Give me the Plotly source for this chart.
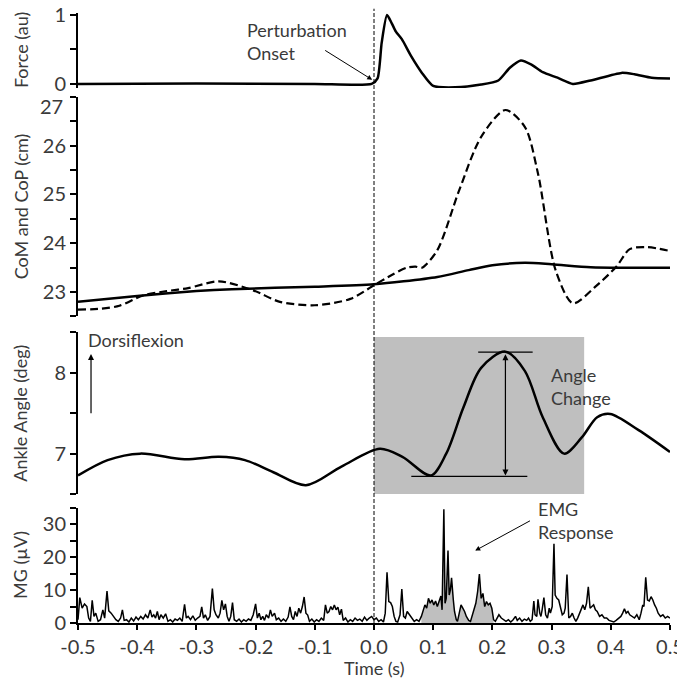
import plotly.graph_objects as go

# time axis (s) and readings from the figure
force_t = [-0.5, -0.3, -0.1, -0.004, 0.006, 0.013, 0.022, 0.03, 0.037, 0.047, 0.063, 0.081, 0.1, 0.137,
           0.181, 0.21, 0.229, 0.248, 0.266, 0.285, 0.31, 0.336, 0.366, 0.418, 0.44, 0.469, 0.5]
force_au = [0.0, 0.005, 0.0, 0.0, 0.08, 0.6, 1.0, 0.88, 0.76, 0.65, 0.40, 0.16, -0.03, -0.05,
            -0.01, 0.05, 0.23, 0.34, 0.28, 0.17, 0.09, 0.0, 0.05, 0.16, 0.14, 0.09, 0.08]

com_t = [-0.5, -0.4, -0.3, -0.24, -0.1, 0.0, 0.05, 0.107, 0.16, 0.2, 0.255, 0.3, 0.366, 0.43, 0.5]
com_cm = [22.8, 22.92, 23.02, 23.06, 23.11, 23.16, 23.22, 23.31, 23.45, 23.55, 23.6, 23.57, 23.51, 23.5, 23.5]

cop_t = [-0.5, -0.46, -0.43, -0.39, -0.35, -0.314, -0.262, -0.203, -0.159, -0.1, -0.04, 0.0, 0.03,
         0.055, 0.07, 0.081, 0.107, 0.144, 0.181, 0.222, 0.255, 0.277, 0.307, 0.336, 0.373, 0.41,
         0.432, 0.462, 0.5]
cop_cm = [22.64, 22.66, 22.72, 22.93, 23.02, 23.08, 23.22, 23.03, 22.8, 22.73, 22.86, 23.14, 23.35,
          23.5, 23.52, 23.5, 23.86, 25.09, 26.18, 26.73, 26.38, 25.43, 23.44, 22.77, 23.1, 23.53,
          23.88, 23.92, 23.84]

ankle_t = [-0.5, -0.45, -0.395, -0.32, -0.262, -0.218, -0.17, -0.115, -0.055, 0.01, 0.048, 0.096,
           0.122, 0.151, 0.181, 0.222, 0.255, 0.285, 0.321, 0.351, 0.377, 0.399, 0.447, 0.5]
ankle_deg = [6.73, 6.92, 7.0, 6.93, 6.96, 6.92, 6.77, 6.61, 6.84, 7.06, 6.96, 6.73,
             7.0, 7.57, 8.06, 8.26, 8.02, 7.45, 7.0, 7.2, 7.45, 7.49, 7.29, 7.02]

emg_t = [-0.500, -0.497, -0.493, -0.489, -0.485, -0.482, -0.479, -0.476, -0.473, -0.470, -0.466,
         -0.462, -0.458, -0.455, -0.451, -0.448, -0.444, -0.440, -0.436, -0.432, -0.428, -0.425,
         -0.422, -0.418, -0.414, -0.410, -0.406, -0.402, -0.398, -0.394, -0.390, -0.386, -0.382,
         -0.378, -0.375, -0.372, -0.369, -0.366, -0.363, -0.360, -0.356, -0.352, -0.348, -0.344,
         -0.340, -0.336, -0.332, -0.328, -0.324, -0.320, -0.317, -0.314, -0.310, -0.306, -0.302,
         -0.298, -0.294, -0.291, -0.288, -0.285, -0.281, -0.277, -0.273, -0.270, -0.267, -0.263,
         -0.260, -0.257, -0.254, -0.251, -0.248, -0.245, -0.242, -0.239, -0.236, -0.232, -0.228,
         -0.224, -0.220, -0.216, -0.212, -0.208, -0.204, -0.200, -0.197, -0.194, -0.191, -0.188,
         -0.185, -0.182, -0.178, -0.175, -0.172, -0.168, -0.165, -0.161, -0.157, -0.153, -0.149,
         -0.145, -0.142, -0.139, -0.136, -0.133, -0.130, -0.127, -0.124, -0.121, -0.118, -0.115,
         -0.112, -0.109, -0.105, -0.101, -0.097, -0.093, -0.089, -0.085, -0.082, -0.079, -0.076,
         -0.073, -0.070, -0.067, -0.064, -0.061, -0.058, -0.055, -0.052, -0.048, -0.044, -0.040,
         -0.036, -0.032, -0.028, -0.024, -0.020, -0.016, -0.012, -0.008, -0.004, 0.000, 0.004,
         0.008, 0.012, 0.016, 0.019, 0.022, 0.025, 0.028, 0.031, 0.034, 0.037, 0.040, 0.044, 0.047,
         0.050, 0.053, 0.056, 0.060, 0.064, 0.068, 0.072, 0.076, 0.080, 0.083, 0.086, 0.089, 0.092,
         0.095, 0.098, 0.101, 0.104, 0.107, 0.110, 0.113, 0.115, 0.118, 0.120, 0.122, 0.125, 0.127,
         0.129, 0.131, 0.134, 0.136, 0.139, 0.141, 0.144, 0.147, 0.150, 0.153, 0.156, 0.160, 0.163,
         0.166, 0.169, 0.172, 0.175, 0.178, 0.181, 0.184, 0.187, 0.190, 0.193, 0.196, 0.199, 0.202,
         0.205, 0.208, 0.211, 0.215, 0.219, 0.223, 0.227, 0.231, 0.235, 0.239, 0.242, 0.246, 0.250,
         0.254, 0.258, 0.261, 0.264, 0.267, 0.270, 0.272, 0.275, 0.277, 0.280, 0.282, 0.284, 0.287,
         0.290, 0.293, 0.296, 0.298, 0.301, 0.304, 0.306, 0.309, 0.312, 0.315, 0.318, 0.321, 0.323,
         0.326, 0.329, 0.332, 0.335, 0.338, 0.341, 0.344, 0.347, 0.350, 0.353, 0.356, 0.359, 0.362,
         0.365, 0.368, 0.371, 0.374, 0.377, 0.381, 0.385, 0.389, 0.393, 0.397, 0.401, 0.405, 0.409,
         0.413, 0.417, 0.420, 0.423, 0.426, 0.429, 0.432, 0.436, 0.440, 0.444, 0.448, 0.451, 0.454,
         0.456, 0.459, 0.462, 0.465, 0.468, 0.471, 0.474, 0.477, 0.480, 0.484, 0.488, 0.492, 0.496,
         0.500]
emg_uv = [1.0, 7.7, 4.5, 5.8, 5.0, 1.5, 0.5, 6.9, 2.0, 3.0, 0.5,
          1.0, 4.0, 1.5, 9.7, 3.7, 3.0, 2.0, 1.0, 0.5, 1.5, 4.0,
          0.8, 1.0, 0.3, 1.5, 0.6, 1.8, 1.0, 2.0, 1.2, 2.5, 1.5,
          4.0, 1.8, 2.5, 1.5, 3.5, 1.0, 2.5, 1.5, 2.8, 0.5, 1.0,
          0.3, 1.2, 0.8, 1.5, 0.5, 5.7, 1.5, 2.0, 1.0, 2.2, 0.8,
          1.5, 2.0, 4.9, 1.5, 2.5, 0.8, 2.0, 10.5, 4.0, 2.5, 1.5,
          3.0, 6.9, 4.0, 5.8, 2.0, 0.5, 2.0, 6.2, 1.0, 0.5, 1.2,
          0.3, 1.0, 0.5, 1.2, 0.8, 2.5, 5.8, 1.5, 3.0, 1.0, 2.0,
          0.8, 2.5, 1.5, 4.0, 2.0, 3.0, 1.0, 1.5, 0.5, 1.2, 0.5,
          1.8, 4.9, 2.0, 1.0, 3.5, 2.0, 4.5, 3.0, 5.0, 7.9, 3.0,
          2.4, 0.5, 1.2, 0.3, 1.0, 0.5, 1.5, 0.8, 5.5, 3.0, 3.5,
          5.0, 4.0, 5.5, 4.0, 4.8, 2.5, 4.2, 0.8, 1.5, 0.3, 1.0,
          0.5, 1.5, 0.8, 1.2, 0.5, 1.8, 0.8, 1.5, 2.0, 1.0, 1.5,
          0.5, 1.0, 0.3, 3.0, 15.4, 6.5, 6.2, 5.0, 2.0, 0.5, 0.3, 2.5, 10.3,
          2.0, 1.5, 3.5, 2.5, 1.5, 0.5, 1.0, 0.5, 2.0, 3.5, 5.5, 4.5, 7.5,
          6.0, 7.0, 5.5, 6.7, 5.0, 7.0, 8.2, 4.0, 34.6, 6.0, 7.5, 22.0, 8.5,
          10.0, 13.7, 7.0, 3.5, 1.0, 0.5, 3.0, 5.5, 4.5, 3.5, 2.0, 0.8, 0.5,
          2.5, 4.5, 6.0, 9.5, 14.9, 7.5, 9.0, 5.0, 6.5, 5.5, 6.0, 4.5, 1.0,
          0.5, 1.5, 2.5, 1.5, 1.0, 0.5, 1.0, 0.3, 1.0, 2.0, 0.8, 1.5, 0.5,
          1.2, 0.8, 1.5, 0.5, 1.0, 6.7, 2.5, 2.0, 7.2, 3.0, 2.0, 4.0, 7.7,
          2.5, 1.5, 4.5, 3.0, 5.0, 24.1, 8.5, 7.5, 7.0, 5.0, 2.5, 3.0, 4.5,
          14.7, 1.5, 2.0, 3.0, 1.5, 0.5, 1.5, 3.0, 4.5, 5.5, 4.0, 6.0, 11.0,
          4.5, 5.0, 5.5, 4.0, 3.5, 2.0, 2.5, 1.5, 1.5, 0.8, 0.5, 0.3, 0.8,
          1.5, 2.0, 3.0, 4.3, 3.0, 3.5, 2.5, 2.0, 1.5, 2.5, 1.0, 3.0, 5.5,
          5.0, 13.9, 7.0, 6.7, 8.0, 7.0, 5.5, 4.5, 3.0, 2.0, 2.5, 1.5, 2.0,
          1.5]

# window of the EMG response that is shaded
resp_start, resp_end = 0.080, 0.202
x_ticks = [-0.5, -0.4, -0.3, -0.2, -0.1, 0.0, 0.1, 0.2, 0.3, 0.4, 0.5]
com_ticks = [23, 24, 25, 26, 27]

FONT = "Lato"
TXT = "#3a3a3a"
TICK_SIZE = 20
TEXT_SIZE = 18

fig = go.Figure()

fig.add_trace(go.Scatter(x=force_t, y=force_au, mode="lines", xaxis="x", yaxis="y",
                         line=dict(color="black", width=2.5, shape="spline", smoothing=0.6)))
fig.add_trace(go.Scatter(x=cop_t, y=cop_cm, mode="lines", xaxis="x", yaxis="y2",
                         line=dict(color="black", width=2.2, dash="8px,4px", shape="spline", smoothing=0.8)))
fig.add_trace(go.Scatter(x=com_t, y=com_cm, mode="lines", xaxis="x", yaxis="y2",
                         line=dict(color="black", width=2.5, shape="spline", smoothing=0.8)))
fig.add_trace(go.Scatter(x=ankle_t, y=ankle_deg, mode="lines", xaxis="x", yaxis="y3",
                         line=dict(color="black", width=2.5, shape="spline", smoothing=0.9)))

# grey area under the EMG response
resp = [(t, v) for t, v in zip(emg_t, emg_uv) if resp_start <= t <= resp_end]
fig.add_trace(go.Scatter(x=[p[0] for p in resp], y=[p[1] for p in resp], mode="lines",
                         xaxis="x", yaxis="y4", fill="tozeroy", fillcolor="#bfbfbf",
                         line=dict(width=0)))
fig.add_trace(go.Scatter(x=emg_t, y=emg_uv, mode="lines", xaxis="x", yaxis="y4",
                         line=dict(color="black", width=1.5)))

yax = dict(showline=True, linecolor="black", linewidth=2, ticks="outside", ticklen=6,
           tickwidth=1.5, tickcolor="black", showgrid=False, zeroline=False, anchor="x",
           automargin=False, ticklabeloverflow="allow",
           tickfont=dict(family=FONT, size=TICK_SIZE, color=TXT),
           minor=dict(ticks="outside", ticklen=6, tickwidth=1.5, tickcolor="black", showgrid=False))

# the page body adds an 8px offset, so the figure is 8px smaller than the window
fig.update_layout(
    width=677, height=674,
    margin=dict(l=70, r=15, t=5, b=59),
    paper_bgcolor="white", plot_bgcolor="white",
    showlegend=False,
    font=dict(family=FONT, size=TEXT_SIZE, color=TXT),
    xaxis=dict(range=[-0.5, 0.5], anchor="y4", showline=True, linecolor="black", linewidth=2,
               ticks="outside", ticklen=5, tickwidth=1.5, tickcolor="black", automargin=False,
               ticklabeloverflow="allow",
               tickvals=x_ticks, ticktext=[f"{v:.1f}" for v in x_ticks],
               showgrid=False, zeroline=False,
               tickfont=dict(family=FONT, size=TICK_SIZE, color=TXT)),
    yaxis=dict(yax, domain=[0.877, 1.0], range=[-0.06, 1.03], tickvals=[0, 1],
               minor=dict(yax["minor"], tickvals=[0.5])),
    yaxis2=dict(yax, domain=[0.5025, 0.8626], range=[22.5, 27], tickvals=com_ticks,
                ticktext=[str(v) if v < 27 else "" for v in com_ticks],
                minor=dict(yax["minor"], dtick=0.5, tick0=22.5)),
    yaxis3=dict(yax, domain=[0.2113, 0.4767], range=[6.5, 8.5], tickvals=[7, 8],
                minor=dict(yax["minor"], tickvals=[6.5, 7.5, 8.5])),
    yaxis4=dict(yax, domain=[0.0, 0.1888], range=[0, 35], tickvals=[0, 10, 20, 30],
                minor=dict(yax["minor"], tickvals=[5, 15, 25, 35])),
)

# shaded window and angle-change markers on the ankle panel
fig.add_shape(type="rect", xref="x", yref="y3", x0=0.0, x1=0.355, y0=6.46, y1=8.44,
              fillcolor="#bfbfbf", line=dict(width=0), layer="below")
fig.add_shape(type="line", xref="x", yref="y3", x0=0.176, x1=0.268, y0=8.255, y1=8.255,
              line=dict(color="black", width=1.2))
fig.add_shape(type="line", xref="x", yref="y3", x0=0.063, x1=0.259, y0=6.72, y1=6.72,
              line=dict(color="black", width=1.2))

# perturbation onset line across all panels
fig.add_shape(type="line", xref="x", yref="paper", x0=0.0, x1=0.0, y0=0.0, y1=1.007,
              line=dict(color="black", width=1, dash="4px,2px"))

ann = []
# top label of the CoM axis sits just below its tick, as in the original
ann.append(dict(xref="paper", yref="y2", x=-0.022, y=27, yshift=-9, text="27", showarrow=False,
                xanchor="right", yanchor="middle", font=dict(size=TICK_SIZE)))
ann.append(dict(xref="x", yref="y", x=-0.218, y=0.62, text="Perturbation<br>Onset",
                showarrow=False, xanchor="left", yanchor="middle", align="left"))
ann.append(dict(xref="x", yref="y", axref="x", ayref="y", x=-0.003, y=0.06, ax=-0.085, ay=0.5,
                text="", showarrow=True, arrowhead=2, arrowsize=1, arrowwidth=1, arrowcolor="black"))
ann.append(dict(xref="x", yref="y3", x=-0.487, y=8.41, text="Dorsiflexion",
                showarrow=False, xanchor="left", yanchor="middle"))
ann.append(dict(xref="x", yref="y3", axref="x", ayref="y3", x=-0.478, y=8.23, ax=-0.478, ay=7.48,
                text="", showarrow=True, arrowhead=2, arrowsize=1, arrowwidth=1.2, arrowcolor="black"))
ann.append(dict(xref="x", yref="y3", x=0.296, y=7.83, text="Angle<br>Change",
                showarrow=False, xanchor="left", yanchor="middle", align="left"))
ann.append(dict(xref="x", yref="y3", axref="x", ayref="y3", x=0.222, y=6.73, ax=0.222, ay=8.245,
                text="", showarrow=True, arrowhead=2, startarrowhead=2, arrowside="end+start",
                arrowsize=1, arrowwidth=1.2, arrowcolor="black"))
ann.append(dict(xref="x", yref="y4", x=0.274, y=31, text="EMG<br>Response",
                showarrow=False, xanchor="left", yanchor="middle", align="left"))
ann.append(dict(xref="x", yref="y4", axref="x", ayref="y4", x=0.171, y=22, ax=0.266, ay=31.3,
                text="", showarrow=True, arrowhead=2, arrowsize=1, arrowwidth=1, arrowcolor="black"))

# axis titles kept at one x position, as in the original
titles = [("Force (au)", (1.0 + 0.877) / 2), ("CoM and CoP (cm)", (0.5025 + 0.8626) / 2),
          ("Ankle Angle (deg)", (0.2113 + 0.4767) / 2), ("MG (µV)", 0.1888 / 2)]
for txt, yc in titles:
    ann.append(dict(xref="paper", yref="paper", x=-0.097, y=yc, text=txt, textangle=-90,
                    showarrow=False, xanchor="center", yanchor="middle"))
ann.append(dict(xref="paper", yref="paper", x=0.5, y=-0.073, text="Time (s)",
                showarrow=False, xanchor="center", yanchor="middle"))

fig.update_layout(annotations=ann)

fig.write_html("out.html")
